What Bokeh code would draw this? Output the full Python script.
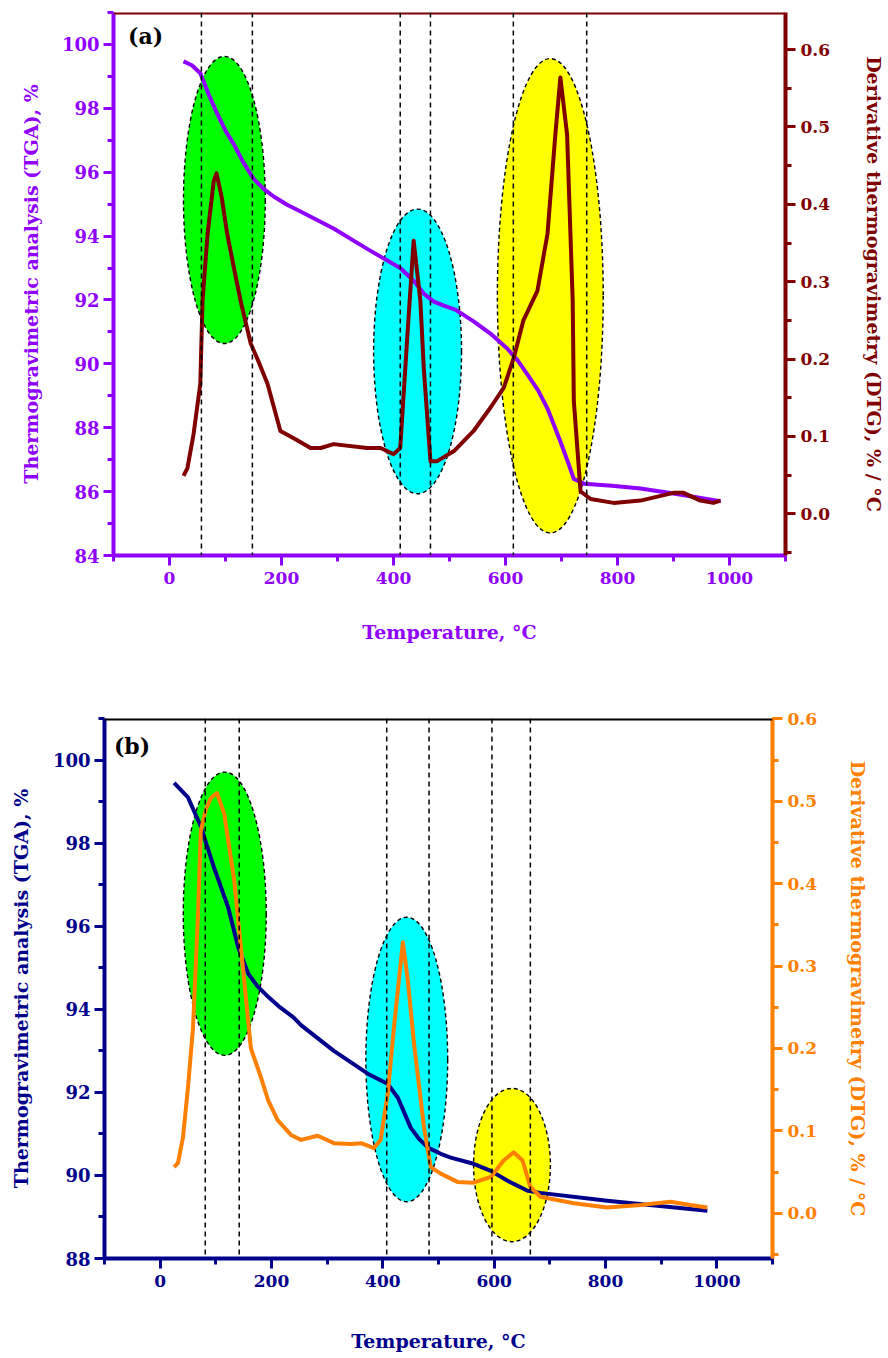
from bokeh.plotting import figure
from bokeh.models import Range1d, LinearAxis, SingleIntervalTicker, Span, Label, NumeralTickFormatter
from bokeh.embed import file_html
from bokeh.resources import INLINE

# ---------------- panel (a) data ----------------
temp_tga_a = [25, 40, 55, 61, 72, 86, 100, 115, 132, 150, 168, 186, 210, 234, 293, 353, 412,
              436, 454, 472, 490, 510, 543, 575, 603, 622, 639, 658, 675, 698, 712, 722, 740,
              790, 841, 900, 984]
tga_a = [99.47, 99.35, 99.1, 98.84, 98.35, 97.8, 97.3, 96.87, 96.3, 95.8, 95.48, 95.24, 94.98,
         94.77, 94.24, 93.6, 93.0, 92.6, 92.2, 91.95, 91.82, 91.7, 91.33, 90.92, 90.48, 90.1,
         89.67, 89.18, 88.6, 87.57, 86.9, 86.4, 86.25, 86.18, 86.1, 85.94, 85.7]

temp_dtg_a = [25, 32, 43, 55, 59, 68, 79, 84, 93, 103, 115, 127, 145, 160, 175, 198, 221, 252,
              270, 293, 353, 377, 400, 412, 425, 436, 448, 454, 466, 478, 508, 543, 573, 597,
              615, 632, 657, 675, 689, 698, 710, 720, 722, 734, 752, 793, 841, 900, 918, 948,
              971, 984]
dtg_a = [0.049, 0.059, 0.103, 0.168, 0.275, 0.362, 0.43, 0.44, 0.41, 0.362, 0.318, 0.275,
         0.22, 0.195, 0.168, 0.107, 0.098, 0.085, 0.085, 0.09, 0.085, 0.085, 0.077, 0.085,
         0.233, 0.353, 0.275, 0.189, 0.068, 0.068, 0.081, 0.107, 0.137, 0.163, 0.202, 0.25,
         0.288, 0.362, 0.49, 0.564, 0.49, 0.275, 0.146, 0.029, 0.019, 0.014, 0.017, 0.027,
         0.027, 0.017, 0.014, 0.017]

ell_a_x = [98, 443, 680]
ell_a_y = [95.13, 90.39, 92.13]
ell_a_w = [146, 157, 189]
ell_a_h = [8.99, 8.92, 14.87]
ell_a_color = ["#00FF00", "#00FFFF", "#FFFF00"]
vlines_a = [57, 148, 412, 466, 614, 745]

# ---------------- panel (b) data ----------------
temp_tga_b = [25, 50, 73, 97, 122, 140, 158, 175, 194, 215, 240, 253, 312, 373, 409, 427, 450,
              465, 481, 504, 522, 563, 594, 624, 660, 683, 803, 893, 983]
tga_b = [99.45, 99.1, 98.4, 97.4, 96.46, 95.5, 94.86, 94.55, 94.3, 94.05, 93.8, 93.62, 93.0,
         92.45, 92.2, 91.87, 91.15, 90.88, 90.67, 90.52, 90.43, 90.28, 90.11, 89.87, 89.63,
         89.58, 89.39, 89.27, 89.15]

temp_dtg_b = [25, 32, 41, 50, 59, 68, 73, 82, 91, 102, 115, 133, 151, 163, 181, 194, 211, 235,
              253, 283, 312, 343, 361, 384, 396, 409, 420, 436, 445, 456, 474, 486, 504, 534,
              563, 594, 617, 635, 651, 665, 683, 743, 803, 863, 917, 952, 983]
dtg_b = [0.056, 0.061, 0.092, 0.153, 0.225, 0.363, 0.464, 0.49, 0.504, 0.51, 0.485, 0.404,
         0.282, 0.2, 0.165, 0.137, 0.113, 0.095, 0.089, 0.094, 0.085, 0.084, 0.085, 0.079,
         0.089, 0.146, 0.226, 0.329, 0.282, 0.206, 0.104, 0.056, 0.048, 0.038, 0.037, 0.044,
         0.064, 0.074, 0.064, 0.032, 0.02, 0.012, 0.007, 0.01, 0.014, 0.01, 0.007]

ell_b_x = [116, 443, 632]
ell_b_y = [96.3, 92.79, 90.25]
ell_b_w = [149, 147, 138]
ell_b_h = [6.82, 6.85, 3.69]
ell_b_color = ["#00FF00", "#00FFFF", "#FFFF00"]
vlines_b = [81, 142, 407, 483, 596, 665]

FONT = "DejaVu Serif"
X_LABEL = "Temperature, \u00b0C"
Y_LABEL = "Thermogravimetric analysis (TGA), %"
Y2_LABEL = "Derivative thermogravimetry (DTG), % / \u00b0C"


def style_axis(ax, color, tick_size="17px", standoff=6, label_standoff=14):
    ax.axis_line_color = color
    ax.axis_line_width = 4
    ax.major_tick_line_color = color
    ax.major_tick_line_width = 3
    ax.minor_tick_line_color = color
    ax.minor_tick_line_width = 3
    ax.major_tick_in = 0
    ax.major_tick_out = 10
    ax.minor_tick_in = 0
    ax.minor_tick_out = 6
    ax.major_label_text_font = FONT
    ax.major_label_text_font_style = "bold"
    ax.major_label_text_font_size = tick_size
    ax.major_label_text_color = color
    ax.major_label_standoff = standoff
    ax.axis_label_text_font = FONT
    ax.axis_label_text_font_style = "bold"
    ax.axis_label_text_font_size = "19px"
    ax.axis_label_text_color = color
    ax.axis_label_standoff = label_standoff


def make_panel(tag, height, borders, yr, y2r, c_left, c_right, c_top,
               t_tga, v_tga, t_dtg, v_dtg, ex, ey, ew, eh, ec, vl, tag_xy,
               x_label_standoff, y_label_standoff, y2_label_standoff):
    top, right, bottom, left = borders
    p = figure(width=888, height=height, output_backend="svg", toolbar_location=None,
               x_range=Range1d(-100, 1100), y_range=Range1d(*yr),
               min_border_top=top, min_border_right=right,
               min_border_bottom=bottom, min_border_left=left)
    p.outline_line_color = None
    p.grid.visible = False
    p.background_fill_color = "white"
    p.border_fill_color = "white"
    p.extra_y_ranges = {"dtg": Range1d(*y2r)}

    p.xaxis.ticker = SingleIntervalTicker(interval=200, num_minor_ticks=2)
    p.yaxis.ticker = SingleIntervalTicker(interval=2, num_minor_ticks=2)
    p.xaxis.axis_label = X_LABEL
    p.yaxis.axis_label = Y_LABEL
    style_axis(p.xaxis[0], c_left, label_standoff=x_label_standoff)
    style_axis(p.yaxis[0], c_left, tick_size="18px", standoff=4, label_standoff=y_label_standoff)

    ax2 = LinearAxis(y_range_name="dtg", axis_label=Y2_LABEL,
                     ticker=SingleIntervalTicker(interval=0.1, num_minor_ticks=2),
                     formatter=NumeralTickFormatter(format="0.0"))
    style_axis(ax2, c_right, standoff=5, label_standoff=y2_label_standoff)
    p.add_layout(ax2, "right")

    p.add_layout(Span(location=yr[1], dimension="width", line_color=c_top, line_width=4))

    p.ellipse(x=ex, y=ey, width=ew, height=eh, fill_color=ec, line_color="black",
              line_dash="4 3", line_width=1.4)
    for v in vl:
        p.add_layout(Span(location=v, dimension="height", line_color="black",
                          line_dash="5 4", line_width=1.5))
    p.line(t_tga, v_tga, line_color=c_left, line_width=4, line_join="round")
    p.line(t_dtg, v_dtg, line_color=c_right, line_width=4, line_join="round",
           y_range_name="dtg")
    p.add_layout(Label(x=tag_xy[0], y=tag_xy[1], text=tag, text_font=FONT,
                       text_font_style="bold", text_font_size="22px", text_color="black",
                       text_baseline="middle", text_align="left"))
    return p


p1 = make_panel("(a)", 664, (12, 102, 109, 113), (84, 101), (-0.054, 0.648),
                "#8F00FF", "#800000", "#800000",
                temp_tga_a, tga_a, temp_dtg_a, dtg_a,
                ell_a_x, ell_a_y, ell_a_w, ell_a_h, ell_a_color, vlines_a,
                (-74, 100.25), 34, 17, 30)

p2 = make_panel("(b)", 692, (54, 116, 98, 104), (88, 101), (-0.055, 0.6005),
                "#00008B", "#FF7F00", "black",
                temp_tga_b, tga_b, temp_dtg_b, dtg_b,
                ell_b_x, ell_b_y, ell_b_w, ell_b_h, ell_b_color, vlines_b,
                (-83, 100.35), 40, 18, 27)

open("out.html", "w").write(file_html([p1, p2], INLINE))
